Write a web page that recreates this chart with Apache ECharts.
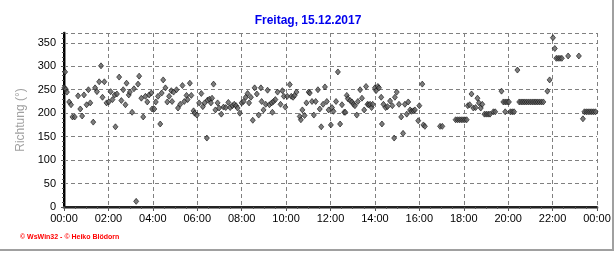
<!DOCTYPE html>
<html><head><meta charset="utf-8">
<script src="https://cdn.jsdelivr.net/npm/echarts@6/dist/echarts.min.js"></script>
<style>html,body{margin:0;padding:0;background:#fff}#c{width:616px;height:253px}</style>
</head><body><div id="c"></div>
<script>
const chartTitle = 'Freitag, 15.12.2017';
const yAxisTitle = 'Richtung (°)';
const footerText = '© WsWin32 - © Heiko Blödorn';
const xTickLabels = ['00:00','02:00','04:00','06:00','08:00','10:00','12:00','14:00','16:00','18:00','20:00','22:00','00:00'];
const yTickStep = 50;
// [minutes after midnight, wind direction in degrees]
const nightData = [
[1,254],[3,288],[5,251],[8,245],[14,224],[19,218],[23,192],[29,192],[38,237],[44,209],
[49,194],[54,239],[61,218],[66,250],[71,222],[79,181],[84,254],[89,246],[95,267],[100,301],
[104,234],[109,267],[115,222],[121,224],[126,246],[131,229],[137,239],[139,171],[143,241],[149,277],
[155,227],[160,250],[166,218],[169,264],[175,239],[178,245],[184,202],[189,252],[195,12],[200,262],
[203,279],[209,232],[214,192],[220,236],[225,224],[230,239],[236,243],[238,209],[244,209],[248,224],
[254,236],[260,177],[264,243],[268,271],[274,254],[279,224],[284,236],
[290,248],[292,225],[296,245],[304,250],[308,211],[314,219],[320,259],[325,225],[331,238],[334,229],
[340,264],[344,238],[350,205],[353,200],[359,196]
];
const morningData = [
[365,222],[371,242],[375,214],[380,222],[386,147],[388,228],[393,230],[397,222],[400,232],[404,262],
[409,207],[415,222],[419,211],[425,198],[431,213],[437,212],[444,223],[449,212],[455,216],[460,219],
[465,216],[469,211],[475,200],[480,222],[485,225],[491,234],[496,242],[500,222],[505,234],[510,185],
[515,254],[521,241],[526,196],[532,254],[534,225],[539,207],[545,219],[550,249],[555,218],[561,222],
[563,202],[566,225],[571,229],[577,245],[585,219],[590,248],[594,236],[598,213],[603,236],[610,261],
[614,236],[619,234],[623,238],[628,245],[637,193],[640,186],[644,207],[650,195],[655,222],[661,245],
[664,243],[670,225],[675,196],[680,225],[686,250],[691,209],[695,171],[700,219],[705,256],[710,225],
[715,207]
];
const afternoonData = [
[721,175],[724,212],[728,204],[735,225],[740,288],[746,177],[751,218],[757,202],[760,202],[764,238],
[767,231],[773,227],[778,224],[782,219],[786,216],[791,196],[794,225],[800,250],[805,232],[811,207],
[816,257],[820,219],[823,218],[827,219],[831,212],[834,219],[840,254],[843,248],[848,257],[851,254],
[857,234],[859,177],[863,219],[869,212],[874,214],[881,226],[887,216],[892,147],[894,234],[899,245],
[905,219],[911,192],[916,157],[921,219],[926,198],[930,224],[935,207],[939,204],[944,205],[948,207],
[957,184],[960,216],[968,262],[971,175],[975,172],[1016,172],[1022,172],
[1058,186],[1063,186],[1068,186],[1073,186],[1078,186],[1083,186],[1088,186]
];
const eveningData = [
[1091,216],[1096,218],[1101,241],[1106,211],[1112,212],[1117,232],[1121,222],[1126,211],[1130,219],
[1136,198],[1141,198],[1146,198],[1151,198],[1160,203],[1165,203],[1182,247],[1187,224],[1192,224],
[1197,224],[1202,224],[1192,203],[1206,203],[1211,203],[1216,203],[1225,292],
[1230,224],[1235,224],[1240,224],[1245,224],[1250,224],[1255,224],[1260,224],[1265,224],[1270,224],
[1275,224],[1280,224],[1285,224],[1290,224],[1295,224],
[1306,247],[1312,271],[1321,361],[1326,338],[1330,317],[1335,317],[1340,317],[1345,317],[1362,322],
[1391,322],[1402,188],[1406,203],[1411,203],[1416,203],[1421,203],[1426,203],[1431,203],[1436,203]
];

const font = 'Liberation Sans, Arial, sans-serif';
const allData = nightData.concat(morningData, afternoonData, eveningData);
const chart = echarts.init(document.getElementById('c'), null, {renderer: 'canvas'});
const dashed = {color: '#808080', width: 1, type: [4, 3]};
chart.setOption({
  animation: false,
  backgroundColor: '#ffffff',
  title: {
    text: chartTitle, left: 'center', top: 10,
    textStyle: {color: '#0000ee', fontSize: 12, fontWeight: 'bold', fontFamily: font}
  },
  grid: {left: 64, right: 19, top: 33, bottom: 46, containLabel: false},
  xAxis: [{
    type: 'value', min: 0, max: 1440, interval: 120, position: 'bottom',
    axisLine: {show: true, lineStyle: {color: '#8c8c8c', width: 3}},
    axisTick: {show: true, length: 4, lineStyle: {color: '#555'}},
    minorTick: {show: true, splitNumber: 4, length: 2, lineStyle: {color: '#555'}},
    axisLabel: {formatter: v => xTickLabels[Math.round(v / 120)], color: '#000', fontSize: 11, margin: 6, fontFamily: font, showMaxLabel: true, showMinLabel: true},
    splitLine: {show: true, lineStyle: dashed}
  }, {
    type: 'value', min: 0, max: 1440, position: 'top',
    axisLine: {show: true, lineStyle: {color: '#000', width: 1.5}},
    axisTick: {show: false}, axisLabel: {show: false}, splitLine: {show: false}
  }],
  yAxis: [{
    type: 'value', min: 0, max: 371, interval: yTickStep, offset: 2,
    name: yAxisTitle, nameLocation: 'middle', nameGap: 29,
    nameTextStyle: {color: '#a0a0a0', fontSize: 12, fontFamily: font},
    axisLine: {show: true, lineStyle: {color: '#8c8c8c', width: 3}},
    axisTick: {show: true, length: 3, lineStyle: {color: '#555'}},
    minorTick: {show: true, splitNumber: 5, length: 2, lineStyle: {color: '#555'}},
    axisLabel: {showMaxLabel: false, formatter: v => (v % yTickStep === 0 ? String(v) : ''), color: '#000', fontSize: 11, margin: 6, fontFamily: font},
    splitLine: {show: true, lineStyle: dashed}
  }, {
    type: 'value', min: 0, max: 371, position: 'right',
    axisLine: {show: true, lineStyle: {color: '#000', width: 2}},
    axisTick: {show: false}, axisLabel: {show: false}, splitLine: {show: false}
  }],
  series: [{
    type: 'scatter', data: allData, xAxisIndex: 0, yAxisIndex: 0,
    symbol: 'diamond', symbolSize: [5, 6], clip: false,
    itemStyle: {color: '#5c5c5c', borderColor: '#111', borderWidth: 0.8}
  }],
  graphic: [
    {type: 'text', left: 20, top: 234, style: {text: footerText, fill: '#ff0000', font: 'bold 7px ' + font}},
    {type: 'line', shape: {x1: 613, y1: 0, x2: 613, y2: 251}, style: {stroke: '#a0a0a0', lineWidth: 2}},
    {type: 'line', shape: {x1: 0, y1: 250, x2: 613, y2: 250}, style: {stroke: '#a0a0a0', lineWidth: 2}}
  ]
});
</script>
</body></html>
